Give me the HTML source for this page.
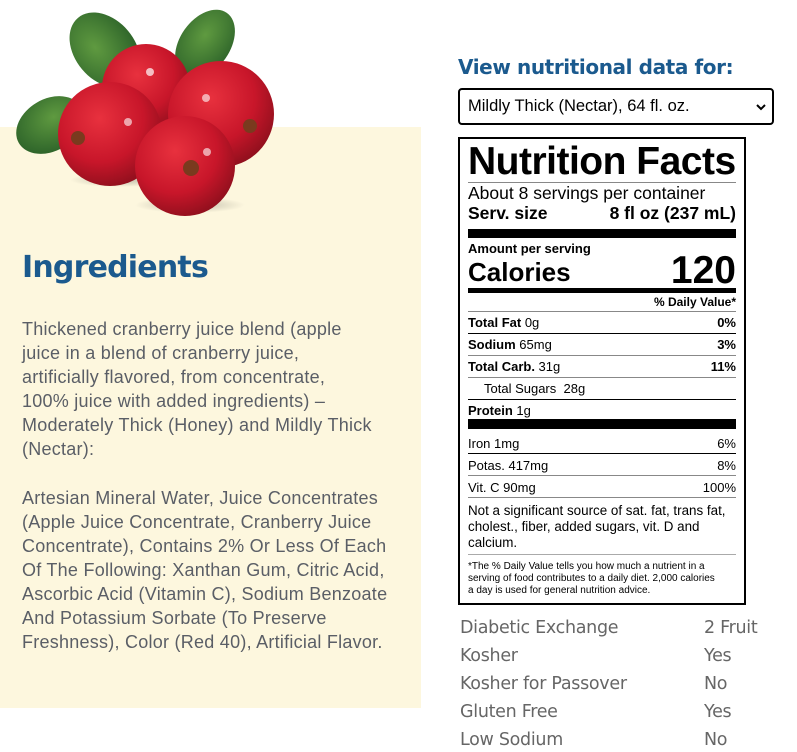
<!DOCTYPE html>
<html><head><meta charset="utf-8"><style>
*{margin:0;padding:0;box-sizing:border-box}
body{width:797px;height:752px;background:#fff;position:relative;overflow:hidden;font-family:"Liberation Sans",sans-serif}
.a{position:absolute;white-space:nowrap}
#panel{position:absolute;left:0;top:127px;width:421px;height:581px;background:#fdf7de}
h1{position:absolute;left:22px;top:250px;font-size:30px;color:#1b5a8e;font-weight:bold;font-family:"DejaVu Sans","Liberation Sans",sans-serif;letter-spacing:-0.8px}
.ing{position:absolute;left:22px;font-size:18px;line-height:24px;color:#5a5e66;font-family:"Liberation Sans",sans-serif;letter-spacing:0.25px;white-space:nowrap}
.lab{position:absolute;left:458px;top:137px;width:288px;height:468px;border:2px solid #000;background:#fff}
.r{position:absolute;left:8px;right:8px;font-size:13px;line-height:1;display:flex;justify-content:space-between;color:#000;white-space:nowrap}
.ln{position:absolute;left:8px;right:8px;height:1px;background:#888}
.bar{position:absolute;left:8px;right:8px;background:#000}
.t{position:absolute;font-size:17.5px;color:#666;font-family:"DejaVu Sans","Liberation Sans",sans-serif;font-weight:normal;letter-spacing:-0.3px}
</style></head><body>
<div id="panel"></div>
<svg class="a" style="left:0;top:0" width="300" height="220">
<defs>
<radialGradient id="b" cx="0.4" cy="0.35" r="0.7"><stop offset="0" stop-color="#e8313e"/><stop offset="0.6" stop-color="#c8162a"/><stop offset="1" stop-color="#8c0f1c"/></radialGradient>
<radialGradient id="l" cx="0.4" cy="0.4" r="0.7"><stop offset="0" stop-color="#5f9a40"/><stop offset="1" stop-color="#2a6028"/></radialGradient>
<radialGradient id="sh" cx="0.5" cy="0.5" r="0.5"><stop offset="0" stop-color="#000" stop-opacity="0.25"/><stop offset="1" stop-color="#000" stop-opacity="0"/></radialGradient>
</defs>
<ellipse cx="105" cy="50" rx="30" ry="42" transform="rotate(-40 105 50)" fill="url(#l)"/>
<ellipse cx="205" cy="44" rx="25" ry="38" transform="rotate(35 205 44)" fill="url(#l)"/>
<ellipse cx="50" cy="125" rx="26" ry="36" transform="rotate(60 50 125)" fill="url(#l)"/>
<ellipse cx="190" cy="205" rx="55" ry="8" fill="url(#sh)"/>
<ellipse cx="120" cy="180" rx="50" ry="7" fill="url(#sh)"/>
<circle cx="146" cy="88" r="44" fill="url(#b)"/>
<circle cx="221" cy="114" r="53" fill="url(#b)"/>
<circle cx="110" cy="134" r="52" fill="url(#b)"/>
<circle cx="185" cy="166" r="50" fill="url(#b)"/>
<circle cx="78" cy="138" r="7" fill="#7a3a1e"/><circle cx="250" cy="126" r="7" fill="#7a3a1e"/><circle cx="191" cy="168" r="8" fill="#7a3a1e"/>
<circle cx="150" cy="72" r="4" fill="#fff" opacity="0.7"/><circle cx="128" cy="122" r="4" fill="#fff" opacity="0.6"/><circle cx="206" cy="98" r="4" fill="#fff" opacity="0.6"/><circle cx="207" cy="152" r="4" fill="#fff" opacity="0.6"/>
</svg>
<h1>Ingredients</h1>
<div class="ing" style="top:317px">Thickened cranberry juice blend (apple<br>juice in a blend of cranberry juice,<br>artificially flavored, from concentrate,<br>100% juice with added ingredients) –<br>Moderately Thick (Honey) and Mildly Thick<br>(Nectar):</div>
<div class="ing" style="top:486px">Artesian Mineral Water, Juice Concentrates<br>(Apple Juice Concentrate, Cranberry Juice<br>Concentrate), Contains 2% Or Less Of Each<br>Of The Following: Xanthan Gum, Citric Acid,<br>Ascorbic Acid (Vitamin C), Sodium Benzoate<br>And Potassium Sorbate (To Preserve<br>Freshness), Color (Red 40), Artificial Flavor.</div>

<div class="a" style="left:458px;top:55px;font-size:20px;font-weight:bold;color:#1b5a8e;font-family:'DejaVu Sans','Liberation Sans',sans-serif;letter-spacing:-0.4px">View nutritional data for:</div>
<div class="a" style="left:458px;top:88px;width:316px;height:37px;border:2px solid #000;border-radius:4px;font-size:16.5px;padding:7px 0 0 8px;color:#000">Mildly Thick (Nectar), 64 fl. oz.<svg style="position:absolute;right:6px;top:13px" width="10" height="8"><path d="M1 2 L5 6 L9 2" stroke="#000" stroke-width="2" fill="none"/></svg></div>

<div class="lab">
<div class="r" style="top:3px;font-size:39px;font-weight:bold;letter-spacing:-0.5px">Nutrition Facts</div>
<div class="ln" style="top:43px"></div>
<div class="r" style="top:46px;font-size:17.5px">About 8 servings per container</div>
<div class="r" style="top:66px;font-size:17.5px;font-weight:bold"><span>Serv. size</span><span>8 fl oz (237 mL)</span></div>
<div class="bar" style="top:90px;height:9px"></div>
<div class="r" style="top:103px;font-size:13px;font-weight:bold">Amount per serving</div>
<div class="r" style="top:114px;font-size:26px;font-weight:bold"><span style="padding-top:6px">Calories</span><span style="font-size:39px;margin-top:-2px">120</span></div>
<div class="bar" style="top:149px;height:5px"></div>
<div class="r" style="top:157px;font-size:12px;font-weight:bold;justify-content:flex-end">% Daily Value*</div>
<div class="ln" style="top:172px"></div>
<div class="r" style="top:177px"><span><b>Total Fat</b> 0g</span><b>0%</b></div>
<div class="ln" style="top:194px;background:#000"></div>
<div class="r" style="top:199px"><span><b>Sodium</b> 65mg</span><b>3%</b></div>
<div class="ln" style="top:216px"></div>
<div class="r" style="top:221px"><span><b>Total Carb.</b> 31g</span><b>11%</b></div>
<div class="ln" style="top:238px"></div>
<div class="r" style="top:243px;padding-left:16px"><span>Total Sugars&nbsp; 28g</span></div>
<div class="ln" style="top:260px;background:#000"></div>
<div class="r" style="top:265px"><span><b>Protein</b> 1g</span></div>
<div class="bar" style="top:280px;height:10px"></div>
<div class="r" style="top:298px"><span>Iron 1mg</span><span>6%</span></div>
<div class="ln" style="top:314px;background:#000"></div>
<div class="r" style="top:320px"><span>Potas. 417mg</span><span>8%</span></div>
<div class="ln" style="top:336px"></div>
<div class="r" style="top:342px"><span>Vit. C 90mg</span><span>100%</span></div>
<div class="ln" style="top:358px"></div>
<div class="r" style="top:364px;display:block;line-height:16px;font-size:13.4px">Not a significant source of sat. fat, trans fat,<br>cholest., fiber, added sugars, vit. D and<br>calcium.</div>
<div class="ln" style="top:415px;background:#aaa"></div>
<div class="r" style="top:422px;display:block;font-size:10px;line-height:12px">*The % Daily Value tells you how much a nutrient in a<br>serving of food contributes to a daily diet. 2,000 calories<br>a day is used for general nutrition advice.</div>
</div>

<div class="t" style="left:460px;top:618px">Diabetic Exchange</div><div class="t" style="left:704px;top:618px">2 Fruit</div>
<div class="t" style="left:460px;top:646px">Kosher</div><div class="t" style="left:704px;top:646px">Yes</div>
<div class="t" style="left:460px;top:674px">Kosher for Passover</div><div class="t" style="left:704px;top:674px">No</div>
<div class="t" style="left:460px;top:702px">Gluten Free</div><div class="t" style="left:704px;top:702px">Yes</div>
<div class="t" style="left:460px;top:730px">Low Sodium</div><div class="t" style="left:704px;top:730px">No</div>
</body></html>
